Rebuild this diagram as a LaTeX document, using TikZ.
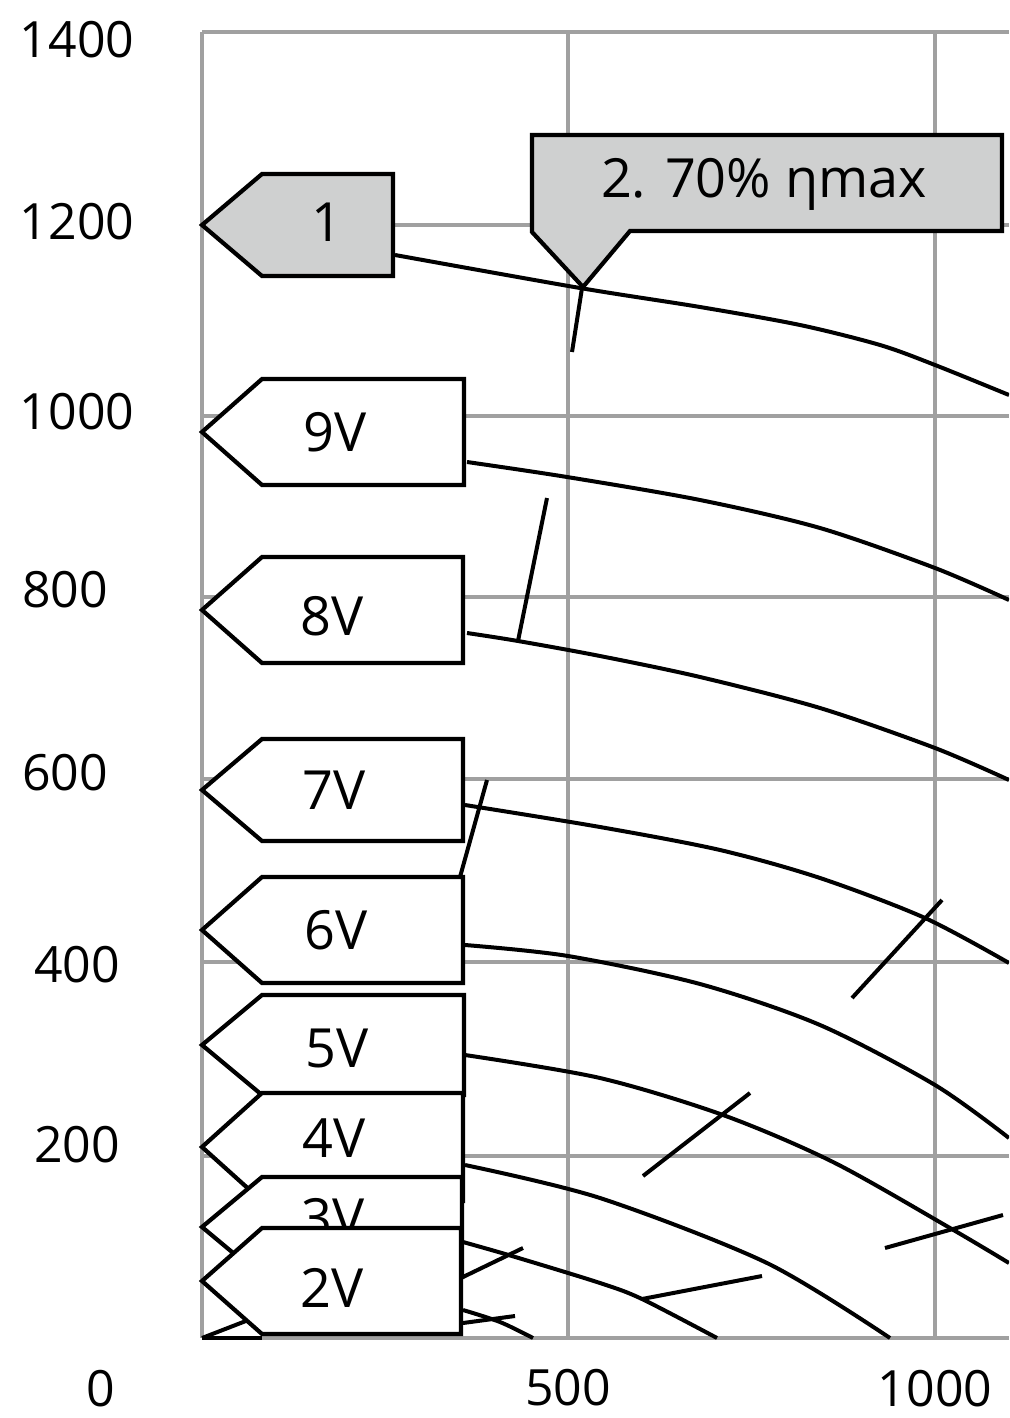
\documentclass[tikz,border=0pt]{standalone}
\usepackage{fontspec}
\setmainfont{Open Sans}
\definecolor{gridc}{RGB}{160,160,160}
\definecolor{labfill}{RGB}{207,208,208}
\newcommand\pentlab[6]{% name, tip y, half height, right x, text, fill
  \path[labbox, fill=#6] (202,#2) -- (262,#2-#3) -- (#4,#2-#3) -- (#4,#2+#3) -- (262,#2+#3) -- cycle;
}
\begin{document}
\begin{tikzpicture}[x=1pt,y=-1pt,
  gridline/.style={draw=gridc, line width=4pt},
  curve/.style={draw=black, line width=4pt},
  tickline/.style={draw=black, line width=4pt},
  labbox/.style={draw=black, line width=4.2pt, line join=miter},
  labtxt/.style={font=\fontsize{54}{60}\selectfont, inner sep=0pt, text height=38.5pt, text depth=0pt},
  axtxt/.style={font=\fontsize{50}{56}\selectfont, inner sep=0pt, text height=35.7pt, text depth=0pt}]
\useasboundingbox (0,0) rectangle (1009,1418);
\clip (0,0) rectangle (1009,1418);
% grid
\foreach \yy in {32,225,416,597,779,962,1156,1338}
  \draw[gridline] (202,\yy) -- (1009,\yy);
\foreach \xx in {202,568,935}
  \draw[gridline] (\xx,32) -- (\xx,1338);
% axis labels
\node[axtxt] (y1400) at (77,40) {1400};
\node[axtxt] (y1200) at (77,222) {1200};
\node[axtxt] (y1000) at (77,412) {1000};
\node[axtxt] (y800) at (65,590) {800};
\node[axtxt] (y600) at (65,773) {600};
\node[axtxt] (y400) at (77,965) {400};
\node[axtxt] (y200) at (77,1145) {200};
\node[axtxt] (x0) at (101,1389) {0};
\node[axtxt] (x500) at (568,1388) {500};
\node[axtxt] (x1000) at (935,1389) {1000};
% curves
\draw[curve] plot[smooth] coordinates {(395,255) (580,288) (700,307) (800,325) (880,345) (935,365) (1009,395)};
\draw[curve] plot[smooth] coordinates {(467,462) (567,477) (700,500) (820,528) (935,568) (1009,600)};
\draw[curve] plot[smooth] coordinates {(467,633) (518,641) (600,656) (700,677) (820,708) (935,748) (1009,780)};
\draw[curve] plot[smooth] coordinates {(465,805) (600,827) (720,850) (820,878) (925,918) (1009,963)};
\draw[curve] plot[smooth] coordinates {(465,945) (568,956) (700,984) (820,1025) (935,1085) (1009,1138)};
\draw[curve] plot[smooth] coordinates {(465,1055) (600,1078) (723,1115) (833,1162) (950,1228) (1009,1263)};
\draw[curve] plot[smooth] coordinates {(465,1165) (600,1198) (767,1263) (890,1338)};
\draw[curve] plot[smooth] coordinates {(463,1242) (512,1256) (600,1283) (642,1299) (717,1338)};
\draw[curve] plot[smooth] coordinates {(463,1310) (500,1322) (533,1338)};
% ticks
\draw[tickline] (582,288) -- (572,352);
\draw[tickline] (547,498) -- (518,641);
\draw[tickline] (487,780) -- (460,877);
\draw[tickline] (942,900) -- (852,998);
\draw[tickline] (750,1093) -- (643,1176);
\draw[tickline] (1003,1215) -- (885,1248);
\draw[tickline] (762,1276) -- (642,1299);
\draw[tickline] (523,1248) -- (463,1277);
\draw[tickline] (463,1323) -- (515,1316);
\draw[tickline] (202,1338) -- (300,1300);
\draw[tickline] (202,1338) -- (262,1338);
% callout
\path[labbox, fill=labfill] (532,135) -- (1002,135) -- (1002,231) -- (630,231) -- (583,287) -- (532,232) -- cycle;
\node[labtxt] (eta) at (764,178) {2. 70\% ηmax};
% labels
\pentlab{l1}{225}{51}{393}{1}{labfill}
\node[labtxt] (t1) at (327,222) {1};
\pentlab{l9}{432}{53}{464}{9V}{white}
\node[labtxt] (t9) at (335,432) {9V};
\pentlab{l8}{610}{53}{463}{8V}{white}
\node[labtxt] (t8) at (332,616) {8V};
\pentlab{l7}{790}{51}{463}{7V}{white}
\node[labtxt] (t7) at (334,790) {7V};
\pentlab{l6}{930}{53}{463}{6V}{white}
\node[labtxt] (t6) at (336,930) {6V};
\pentlab{l5}{1045}{50}{464}{5V}{white}
\node[labtxt] (t5) at (337,1048) {5V};
\pentlab{l4}{1147}{54}{463}{4V}{white}
\node[labtxt] (t4) at (334,1138) {4V};
\pentlab{l3}{1227}{50}{462}{3V}{white}
\node[labtxt] (t3) at (333,1218) {3V};
\pentlab{l2}{1281}{53}{461}{2V}{white}
\node[labtxt] (t2) at (332,1288) {2V};
\end{tikzpicture}
\end{document}
